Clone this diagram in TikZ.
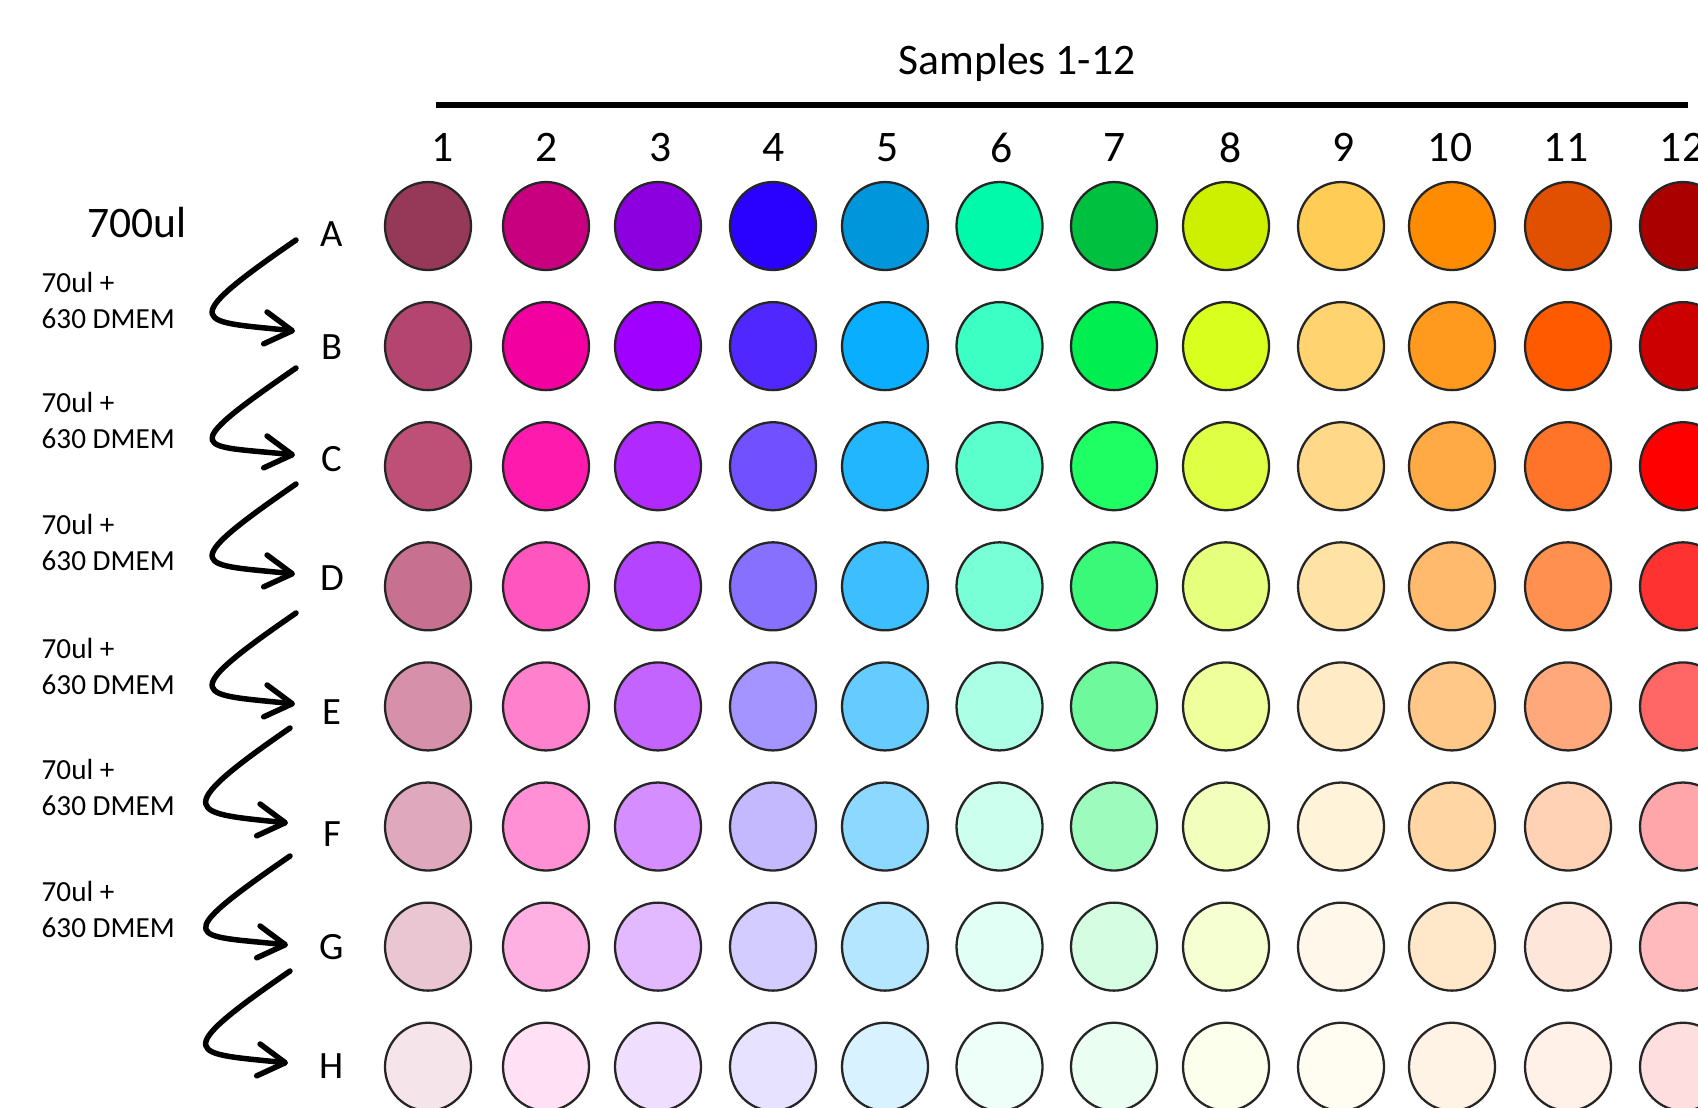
\documentclass[tikz,border=0pt]{standalone}
\usepackage{fontspec}
\setmainfont{Carlito}
\usepackage{tikz}
\usetikzlibrary{arrows.meta, shapes.geometric}
\usepackage{xcolor}
\newcommand{\wellcol}[9]{%
	\definecolor{w#1A}{HTML}{#2}\definecolor{w#1B}{HTML}{#3}%
	\definecolor{w#1C}{HTML}{#4}\definecolor{w#1D}{HTML}{#5}%
	\definecolor{w#1E}{HTML}{#6}\definecolor{w#1F}{HTML}{#7}%
	\definecolor{w#1G}{HTML}{#8}\definecolor{w#1H}{HTML}{#9}}
\wellcol{1}{963858}{B44570}{BE5078}{C87090}{D690AA}{E0A8BC}{EAC6D2}{F5E4EA}
\wellcol{2}{C8007F}{F200A0}{FF1AAE}{FF55BE}{FF80CC}{FF90D6}{FFB0E2}{FFE0F4}
\wellcol{3}{8C00E0}{A000FF}{B02AFF}{B444FF}{C464FF}{D48EFF}{E2B8FF}{F0DEFF}
\wellcol{4}{2A00FF}{5028FF}{7050FF}{8870FF}{A494FF}{C4B8FF}{D2CCFF}{E6E2FF}
\wellcol{5}{0096DC}{0AAEFF}{22B6FF}{3CBEFF}{66CCFF}{8CD8FF}{B4E6FF}{D8F2FF}
\wellcol{6}{00FAAA}{3CFFC4}{5AFFCC}{78FFD6}{AAFFE4}{CCFFEE}{E2FFF6}{EEFFFA}
\wellcol{7}{00C040}{00EE50}{1EFF64}{3AF878}{6EFA9C}{9EFBBE}{D4FDE2}{EAFEF2}
\wellcol{8}{CCF000}{D8FF1E}{DEFF44}{E6FF7C}{EEFF9C}{F2FFBC}{F6FFD2}{FBFFEC}
\wellcol{9}{FFCC55}{FFD470}{FFD88A}{FFE2A6}{FFEBC6}{FFF3DA}{FFF8EA}{FFFCF2}
\wellcol{10}{FF8C00}{FF9A1E}{FFAA44}{FFBA6E}{FFC888}{FFD6A4}{FFE8CA}{FFF3E6}
\wellcol{11}{E05000}{FF5A00}{FF7428}{FF9050}{FFA87C}{FFD2B6}{FFE6DA}{FFF0E8}
\wellcol{12}{AA0000}{CC0000}{FF0000}{FF3232}{FF6666}{FFA6AA}{FFBABE}{FFDEE0}

\begin{document}
\begin{tikzpicture}[
	well/.style={ellipse, draw=black!85, line width=0.65pt, minimum width=0.86cm, minimum height=0.88cm, inner sep=0pt},
	big/.style={font=\fontsize{12.4}{14}\selectfont, inner sep=0pt},
	rowlet/.style={font=\fontsize{11}{13}\selectfont, inner sep=0pt},
	mix/.style={font=\fontsize{8.3}{10.1}\selectfont, align=left, anchor=base west, inner sep=0pt},
	dilution/.style={line width=0.055cm, line cap=round, line join=round, -{Straight Barb[length=0.27cm, width=0.32cm, round]}}]
	\clip (0,0) rectangle (16.98,-11.07);
	\fill[white] (0,0) rectangle (16.98,-11.07);

	\node[big, anchor=base] (samples) at (10.17,-0.74) {Samples 1-12};
	\draw[line width=0.065cm] (4.36,-1.05) -- (16.88,-1.05);

	\foreach \c/\x in {1/4.43,2/5.47,3/6.61,4/7.74,5/8.88,6/10.02,7/11.15,8/12.31,9/13.44,10/14.50,11/15.66,12/16.82}
		\node[big] (col\c) at (\x,-1.475) {\c};

	\foreach \r/\y in {A/2.34,B/3.47,C/4.59,D/5.78,E/7.12,F/8.34,G/9.47,H/10.66}
		\node[rowlet] (row\r) at (3.32,-\y) {\r};

	\foreach \r [count=\i from 0] in {A,B,C,D,E,F,G,H}
		\foreach \c/\x in {1/4.28,2/5.46,3/6.58,4/7.73,5/8.85,6/9.995,7/11.14,8/12.26,9/13.41,10/14.52,11/15.68,12/16.83}
			\node[well, fill=w\c\r] (w\r\c) at (\x,{-2.26-\i*1.201}) {};

	\node[big, anchor=base west] (stock) at (0.87,-2.37) {700ul};
	\foreach \y [count=\k] in {3.28,4.48,5.70,6.94,8.15,9.37}
		\node[mix] (mix\k) at (0.41,-\y) {70ul +\\630 DMEM};

	\foreach \a/\b/\sx/\sy/\ex/\ey in {A/B/-0.36/-0.06/-0.37/0.16, B/C/-0.36/-0.21/-0.37/0.04, C/D/-0.36/-0.25/-0.37/0.04, D/E/-0.36/-0.35/-0.37/0.08, E/F/-0.42/-0.16/-0.44/0.11, F/G/-0.42/-0.22/-0.44/0.02, G/H/-0.42/-0.24/-0.44/0.03}
		\draw[dilution] ([shift={(\sx,\sy)}]row\a.center) .. controls +(-1.25,-0.86) and +(-0.95,0.10) .. ([shift={(\ex,\ey)}]row\b.center);
\end{tikzpicture}
\end{document}
